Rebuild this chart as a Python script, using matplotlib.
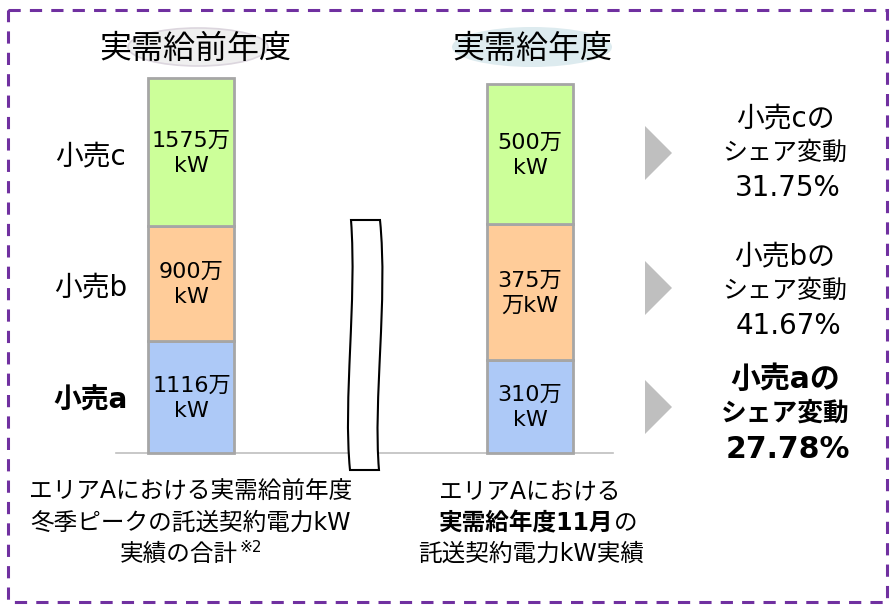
import numpy as np
import matplotlib.pyplot as plt
from matplotlib.patches import Rectangle, Ellipse, Polygon, PathPatch
from matplotlib.path import Path

plt.rcParams['font.family'] = ['DejaVu Sans', 'Noto Sans CJK JP']

# data (values in 万kW, bar heights are the schematic heights)
retailers = ['小売a', '小売b', '小売c']
prev_values = [1116, 900, 1575]
curr_values = [310, 375, 500]
prev_heights = [112, 115, 148]
curr_heights = [93, 136, 140]
prev_labels = ['1116万\nkW', '900万\nkW', '1575万\nkW']
curr_labels = ['310万\nkW', '375万\n万kW', '500万\nkW']
share_change = ['27.78%', '41.67%', '31.75%']
colors = ['#ADC9F7', '#FFCC99', '#CCFF99']

fig = plt.figure(figsize=(8.95, 6.05), dpi=100)
ax = fig.add_axes([0, 0, 1, 1])
ax.set_xlim(0, 895)
ax.set_ylim(605, 0)
ax.axis('off')

base = 453
FS = ['DejaVu Sans', 'Noto Sans CJK JP']

# outer dashed frame
ax.add_patch(Rectangle((8, 10), 879, 592, fill=False, edgecolor='#7030A0',
                       lw=2.2, ls=(0, (4, 3))))

# title ellipses + titles
ax.add_patch(Ellipse((198, 47), 140, 38, facecolor='#EFEFEF', edgecolor='#DCD6DE', lw=1.2))
ax.add_patch(Ellipse((532, 47), 160, 40, facecolor='#DDEBEF', edgecolor='none'))
ax.text(195, 49, '実需給前年度', ha='center', va='center', fontsize=23, family=FS)
ax.text(532, 49, '実需給年度', ha='center', va='center', fontsize=23, family=FS)

# baseline
ax.plot([116, 613], [base, base], color='#BFBFBF', lw=1.2, zorder=1)

# stacked bars
for xc, heights, labels in [(191.5, prev_heights, prev_labels),
                            (530, curr_heights, curr_labels)]:
    bottom = base
    for h, lab, col in zip(heights, labels, colors):
        ax.bar(xc, -h, bottom=bottom, width=86, color=col, edgecolor='#A6A6A6',
               lw=2, zorder=2)
        ax.text(xc, bottom - h / 2 + 1, lab, ha='center', va='center', fontsize=16,
                linespacing=1.32, family=FS, zorder=3)
        bottom -= h

# retailer labels on the left
cum = base - np.cumsum(prev_heights) + np.array(prev_heights) / 2
for name, yc in zip(retailers, cum):
    bold = name == '小売a'
    ax.text(91, yc + 4, name, ha='center', va='center', fontsize=20, family=FS,
            fontweight='bold' if bold else 'normal')

# break symbol
verts = [(351, 220), (357, 300), (343, 400), (350, 470),
         (379, 470), (373, 400), (388, 300), (380, 220), (351, 220)]
codes = [Path.MOVETO, Path.CURVE4, Path.CURVE4, Path.CURVE4,
         Path.LINETO, Path.CURVE4, Path.CURVE4, Path.CURVE4, Path.CLOSEPOLY]
ax.add_patch(PathPatch(Path(verts, codes), facecolor='white', edgecolor='black',
                       lw=1.5, zorder=4))

# arrows and share change texts
arrow_y = [407, 288, 153]
text_y = [414, 291, 153]
for name, pct, ay, ty in zip(retailers, share_change, arrow_y, text_y):
    ax.add_patch(Polygon([(645, ay - 27), (672, ay), (645, ay + 27)],
                         closed=True, color='#BFBFBF', lw=0))
    bold = name == '小売a'
    fw = 'bold' if bold else 'normal'
    big = 21.5 if bold else 20
    mid = 18.5 if bold else 18
    ax.text(785, ty - 35, name + 'の', ha='center', va='center', fontsize=big,
            family=FS, fontweight=fw)
    ax.text(785, ty, 'シェア変動', ha='center', va='center', fontsize=mid,
            family=FS, fontweight=fw)
    ax.text(788, ty + 35, pct, ha='center', va='center', fontsize=big,
            family=FS, fontweight=fw)

# bottom captions
ax.text(191, 492, 'エリアAにおける実需給前年度', ha='center', va='center', fontsize=17, family=FS)
ax.text(191, 523, '冬季ピークの託送契約電力kW', ha='center', va='center', fontsize=17, family=FS)
ax.text(238, 554, '実績の合計', ha='right', va='center', fontsize=17, family=FS)
ax.text(240, 547, '※2', ha='left', va='center', fontsize=11, family=FS)

ax.text(530, 492, 'エリアAにおける', ha='center', va='center', fontsize=17, family=FS)
ax.text(613, 523, '実需給年度11月', ha='right', va='center', fontsize=17,
        family=FS, fontweight='bold')
ax.text(614, 523, 'の', ha='left', va='center', fontsize=17, family=FS)
ax.text(531, 554, '託送契約電力kW実績', ha='center', va='center', fontsize=17, family=FS)

fig.savefig('out.png', dpi=100)
